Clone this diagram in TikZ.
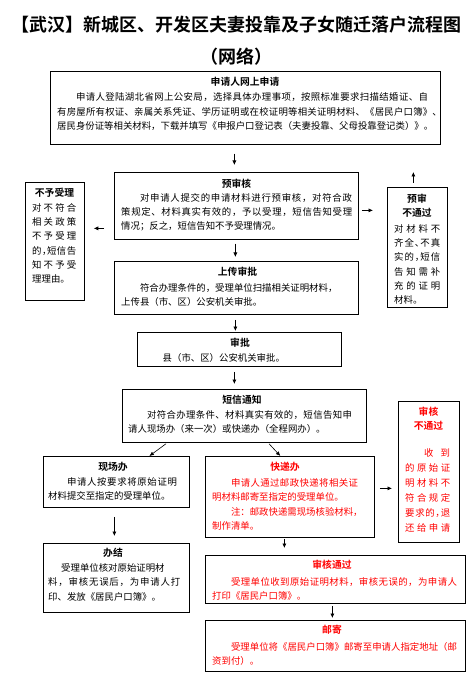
\documentclass[tikz,border=0pt]{standalone}
\usepackage{fontspec}
\setmainfont{Noto Sans CJK SC}[BoldFont={* Bold}]
\usetikzlibrary{arrows.meta}
\definecolor{rred}{RGB}{255,0,0}
\def\spreadloop#1{\ifx\relax#1\else\hskip0pt plus 1fil minus 1pt\relax#1\expandafter\spreadloop\fi}
\def\spreadfirst#1{#1\spreadloop}
\newcommand\spread[2]{\makebox[#1][s]{\spreadfirst#2\relax}}
\newcommand\hd{\makebox[0.5em][l]{、}}
\newcommand\hc{\makebox[0.5em][l]{，}}
\newcommand\ind{\hskip18.8pt\relax}
\newcommand\tb[2][14.2pt]{\vtop{\baselineskip=#1\lineskiplimit=-20pt\lineskip=0pt\halign{##\hfil\cr#2\crcr}}}
\newcommand\tbc[2][14pt]{\vtop{\baselineskip=#1\lineskiplimit=-20pt\lineskip=0pt\halign{\hfil##\hfil\cr#2\crcr}}}
\tikzset{
  box/.style={draw, line width=0.75pt, inner sep=0pt, anchor=north west},
  ttl/.style={anchor=base, inner sep=0pt, font=\fontsize{9.8}{12}\selectfont\bfseries},
  txt/.style={anchor=base west, inner sep=0pt, font=\fontsize{9.4}{14.2}\selectfont},
  arr/.style={-{Latex[length=4.5pt,width=4pt]}, line width=0.6pt},
  redtext/.style={text=rred}
}
\begin{document}
\begin{tikzpicture}
\fill[white] (0,0) rectangle (472pt,-692pt);
\useasboundingbox (0,0) rectangle (472pt,-692pt);
% title
\node[anchor=base, inner sep=0pt, font=\fontsize{18}{22}\selectfont\bfseries] (title1) at (236pt,-31.8pt) {【武汉】新城区、开发区夫妻投靠及子女随迁落户流程图};
\node[anchor=base, inner sep=0pt, font=\fontsize{18}{22}\selectfont\bfseries] (title2) at (236pt,-63.8pt) {（网络）};
% boxes
\node[box, minimum width=390pt, minimum height=73pt] (b1) at (50pt,-71pt) {};
\node[box, minimum width=244pt, minimum height=67pt] (b2) at (114pt,-172pt) {};
\node[box, minimum width=59pt, minimum height=118pt] (bno) at (25pt,-182pt) {};
\node[box, minimum width=60pt, minimum height=120pt] (bpre) at (387pt,-187pt) {};
\node[box, minimum width=244pt, minimum height=53pt] (b3) at (114pt,-261pt) {};
\node[box, minimum width=204pt, minimum height=34pt] (b4) at (137pt,-332pt) {};
\node[box, minimum width=244pt, minimum height=53pt] (b5) at (122pt,-389pt) {};
\node[box, minimum width=61pt, minimum height=141pt] (brej) at (398pt,-401pt) {};
\node[box, minimum width=146pt, minimum height=51pt] (bsite) at (43pt,-456pt) {};
\node[box, minimum width=146pt, minimum height=69pt] (bdone) at (43pt,-543pt) {};
\node[box, minimum width=169pt, minimum height=81pt] (bexp) at (205pt,-456pt) {};
\node[box, minimum width=260pt, minimum height=48pt] (bpass) at (205pt,-555pt) {};
\node[box, minimum width=260pt, minimum height=51pt] (bmail) at (205pt,-620pt) {};
% b1
\node[ttl] (t1) at (245pt,-85.7pt) {申请人网上申请};
\node[txt] (x1) at (57pt,-101pt) {\tb{\ind\spread{352pt}{申请人登陆湖北省网上公安局，选择具体办理事项，按照标准要求扫描结婚证、自}\cr
\spread{380pt}{有房屋所有权证、亲属关系凭证、学历证明或在校证明等相关证明材料、《居民户口簿》\hd}\cr
居民身份证等相关材料，下载并填写《申报户口登记表（夫妻投靠、父母投靠登记类）》。}};
% b2
\node[ttl] (t2) at (236.5pt,-187.7pt) {预审核};
\node[txt] (x2) at (121pt,-201.6pt) {\tb{\ind\spread{212pt}{对申请人提交的申请材料进行预审核，对符合政}\cr
\spread{231pt}{策规定、材料真实有效的，予以受理，短信告知受理}\cr
情况；反之，短信告知不予受理情况。}};
% bno
\node[ttl] (tno) at (54.5pt,-196.7pt) {不予受理};
\node[txt] (xno) at (32pt,-211.6pt) {\tb{\spread{44pt}{对不符合}\cr\spread{44pt}{相关政策}\cr\spread{44pt}{不予受理}\cr\spread{44pt}{的\hc 短信告}\cr\spread{44pt}{知不予受}\cr 理理由。}};
% bpre
\node[ttl] (tpre) at (417pt,-202.7pt) {\tbc{预审\cr 不通过}};
\node[txt] (xpre) at (394pt,-232.6pt) {\tb{\spread{46pt}{对材料不}\cr\spread{46pt}{齐全\hd 不真}\cr\spread{46pt}{实的\hc 短信}\cr\spread{46pt}{告知需补}\cr\spread{46pt}{充的证明}\cr 材料。}};
% b3
\node[ttl] (t3) at (237.5pt,-275.7pt) {上传审批};
\node[txt] (x3) at (121pt,-291.6pt) {\tb{\ind 符合办理条件的，受理单位扫描相关证明材料，\cr 上传县（市、区）公安机关审批。}};
% b4
\node[ttl] (t4) at (240pt,-346.7pt) {审批};
\node[txt] (x4) at (162.5pt,-361.6pt) {县（市、区）公安机关审批。};
% b5
\node[ttl] (t5) at (242pt,-403.7pt) {短信通知};
\node[txt] (x5) at (128pt,-418.6pt) {\tb{\ind\spread{205pt}{对符合办理条件、材料真实有效的，短信告知申}\cr 请人现场办（来一次）或快递办（全程网办）。}};
% brej
\node[ttl, redtext] (trej) at (428.5pt,-415.7pt) {\tbc{审核\cr 不通过}};
\node[txt, redtext] (xrej) at (405pt,-456.6pt) {\tb[15pt]{\ind\spread{26pt}{收到}\cr\spread{45pt}{的原始证}\cr\spread{45pt}{明材料不}\cr\spread{45pt}{符合规定}\cr\spread{45pt}{要求的\hc 退}\cr\spread{45pt}{还给申请}}};
% bsite
\node[ttl] (tsite) at (113pt,-470.7pt) {现场办};
\node[txt] (xsite) at (48pt,-485.6pt) {\tb{\ind\spread{110pt}{申请人按要求将原始证明}\cr 材料提交至指定的受理单位。}};
% bdone
\node[ttl] (tdone) at (113pt,-556.7pt) {办结};
\node[txt] (xdone) at (48pt,-571.6pt) {\tb{\hskip13pt\relax 受理单位核对原始证明材\cr\spread{132pt}{料，审核无误后，为申请人打}\cr 印、发放《居民户口簿》。}};
% bexp
\node[ttl, redtext] (texp) at (285pt,-470.7pt) {快递办};
\node[txt, redtext] (xexp) at (212pt,-486.6pt) {\tb{\ind\spread{127pt}{申请人通过邮政快递将相关证}\cr 明材料邮寄至指定的受理单位。\cr\ind 注：邮政快递需现场核验材料，\cr 制作清单。}};
% bpass
\node[ttl, redtext] (tpass) at (332pt,-568.7pt) {审核通过};
\node[txt, redtext] (xpass) at (212pt,-585.6pt) {\tb{\ind\spread{226pt}{受理单位收到原始证明材料，审核无误的，为申请人}\cr 打印《居民户口簿》。}};
% bmail
\node[ttl, redtext] (tmail) at (332pt,-633.7pt) {邮寄};
\node[txt, redtext] (xmail) at (212pt,-650.6pt) {\tb{\ind\spread{226pt}{受理单位将《居民户口簿》邮寄至申请人指定地址（邮}\cr 资到付）。}};
% arrows
\draw[arr] ([xshift=-11pt,yshift=-9pt]b1.south) -- ([xshift=-2pt,yshift=7pt]b2.north);
\draw[arr] ([xshift=-1pt,yshift=-4pt]b2.south) -- ([xshift=-1pt,yshift=4pt]b3.north);
\draw[arr] ([xshift=-1pt,yshift=-5pt]b3.south) -- ([xshift=-4pt,yshift=1pt]b4.north);
\draw[arr] ([xshift=-5pt,yshift=-5pt]b4.south) -- ([xshift=-10pt,yshift=5pt]b5.north);
\draw[arr] ([xshift=-10pt,yshift=-22.5pt]b2.west) -- ([xshift=9pt,yshift=13pt]bno.east);
\draw[arr] ([xshift=3pt,yshift=-4.5pt]b2.east) -- ([xshift=-14pt,yshift=37pt]bpre.west);
\draw[arr] ([xshift=-4pt,yshift=4pt]bpre.north) -- ([xshift=-4pt,yshift=15pt]bpre.north);
\draw[arr] ([xshift=44pt,yshift=-1pt]b5.south west) -- ([xshift=33pt]bsite.north);
\draw[arr] ([xshift=147pt,yshift=-1pt]b5.south west) -- ([xshift=-9.5pt]bexp.north);
\draw[arr] ([xshift=-2pt,yshift=-9pt]bsite.south) -- ([xshift=-2pt,yshift=7pt]bdone.north);
\draw[arr] ([xshift=5pt,yshift=8.5pt]bexp.east) -- ([xshift=-6pt,yshift=-16.5pt]brej.west);
\draw[arr] ([xshift=-5.5pt,yshift=-1pt]bexp.south) -- ([xshift=-51pt,yshift=7pt]bpass.north);
\draw[arr] ([xshift=-3pt,yshift=-2pt]bpass.south) -- ([xshift=-3pt,yshift=2pt]bmail.north);
\end{tikzpicture}
\end{document}
